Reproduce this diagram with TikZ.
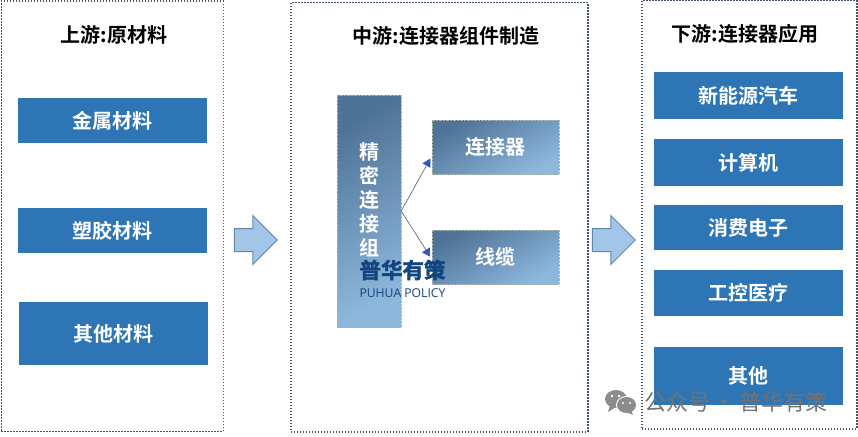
\documentclass[tikz,border=0pt]{standalone}
\usepackage{fontspec}
\setmainfont{Noto Sans CJK SC}[BoldFont={Noto Sans CJK SC Bold}]
\newfontfamily\latinfont{Open Sans}
\newfontfamily\policyfont{Noto Sans CJK SC Bold}[FakeBold=2]
\usetikzlibrary{arrows.meta,shapes.arrows}
\definecolor{boxblue}{HTML}{2E75B6}
\definecolor{panelline}{HTML}{44546A}
\definecolor{policyblue}{HTML}{12447F}
\definecolor{arrowline}{HTML}{5F87A8}
\definecolor{arrowfill}{HTML}{A3C5E8}
\definecolor{gradtop}{HTML}{4F7397}
\definecolor{gradbottom}{HTML}{8DB8DC}
\tikzset{
    panel/.style={draw=panelline,line width=1.5pt,dash pattern=on 1.5pt off 1.5pt,fill=white,anchor=north west,inner sep=0pt},
    titlenode/.style={font=\bfseries\fontsize{20}{20}\selectfont,text=black,inner sep=0pt},
    itembox/.style={fill=boxblue,text=white,font=\bfseries\fontsize{20}{20}\selectfont,inner sep=0pt,minimum width=189pt},
    gradbox/.style={top color=gradtop,bottom color=gradbottom,shading angle=30,draw=black!30!green!10!gray!60,densely dotted,
        text=white,font=\bfseries\fontsize{20}{24}\selectfont,inner sep=0pt,align=center},
    flowarrow/.style={single arrow,draw=arrowline,fill=arrowfill,line width=1pt,inner xsep=0pt,inner ysep=11pt,
        minimum width=48pt,minimum height=43pt,single arrow head extend=13pt,single arrow head indent=0pt},
    linkline/.style={draw=panelline!85,line width=.7pt,-{Triangle[length=8pt,width=9pt,fill=blue!35!boxblue!80!gray,color=blue!35!boxblue!80!gray]},shorten >=3pt},
    markgray/.style={text=black!55,font=\fontsize{22}{22}\selectfont,inner sep=0pt},
}
\begin{document}
\begin{tikzpicture}[x=1pt,y=1pt]
\useasboundingbox (0,0) rectangle (858,-436);
% panels
\node[panel,minimum width=222pt,minimum height=430pt] (upstream) at (0.5,-0.5) {};
\node[panel,minimum width=297pt,minimum height=429pt] (midstream) at (290,-2) {};
\node[panel,minimum width=215pt,minimum height=428pt] (downstream) at (641,0) {};
% titles
\node[titlenode] (uptitle) at (114,-35) {上游:原材料};
\node[titlenode] (midtitle) at (446,-36) {中游:连接器组件制造};
\node[titlenode] (downtitle) at (745,-34) {下游:连接器应用};
% left
\node[itembox,minimum height=45pt] (metal) at (112.5,-120.5) {金属材料};
\node[itembox,minimum height=45pt] (plastic) at (112.5,-230.5) {塑胶材料};
\node[itembox,minimum height=63pt] (othermat) at (113.5,-333.5) {其他材料};
% right
\node[itembox,minimum height=47pt] (car) at (748.5,-95.5) {新能源汽车};
\node[itembox,minimum height=47pt] (computer) at (748.5,-162.5) {计算机};
\node[itembox,minimum height=45pt] (consumer) at (748.5,-227.5) {消费电子};
\node[itembox,minimum height=46pt] (medical) at (748.5,-293) {工控医疗};
\node[itembox,minimum height=58pt] (otherapp) at (748.5,-376) {其他};
% middle
\node[gradbox,minimum width=64pt,minimum height=232pt] (precision) at (369,-211) {精\\密\\连\\接\\组\\\mbox{}};
\node[gradbox,minimum width=127pt,minimum height=54pt] (connector) at (495.5,-147) {连接器};
\node[gradbox,minimum width=127pt,minimum height=54pt] (cable) at (495.5,-257) {线缆};
\draw[linkline] (precision.east) -- (connector.188);
\draw[linkline] (precision.east) -- (cable.182);
% flow arrows
\node[flowarrow] (flowa) at (250,-240) {};
\node[flowarrow] (flowb) at (608,-240) {};
% watermark
\node[inner sep=0pt,text=policyblue,font=\policyfont\fontsize{21.5}{22}\selectfont] (policycn) at (402.5,-270) {普华有策};
\node[inner sep=0pt,text=policyblue,font=\latinfont\fontsize{12.2}{12}\selectfont] (policyen) at (402.5,-293) {PUHUA POLICY};
\node[markgray,anchor=west] (account) at (644,-402) {公众号\hspace{3.5pt}·\hspace{3.5pt}普华有策};
\fill[black!45] (616,-399) circle[x radius=11pt,y radius=9pt];
\fill[black!45] (610,-405) -- (608,-412) -- (616,-407) -- cycle;
\fill[white] (626.5,-405) circle[x radius=10.5pt,y radius=9pt];
\fill[black!45] (626.5,-405) circle[x radius=9.5pt,y radius=8pt];
\fill[black!45] (631,-410) -- (633,-415) -- (626,-412) -- cycle;
\fill[white] (612,-396) circle[radius=1.3pt] (619,-396) circle[radius=1.3pt];
\fill[white] (623,-403) circle[radius=1.1pt] (630,-403) circle[radius=1.1pt];
\end{tikzpicture}
\end{document}
